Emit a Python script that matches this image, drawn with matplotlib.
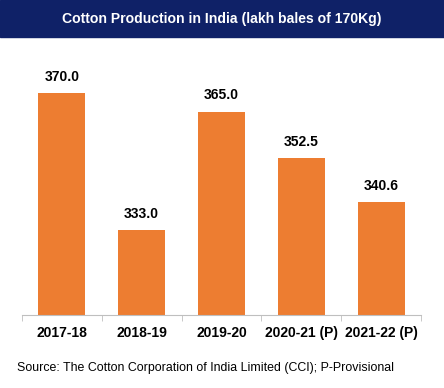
import matplotlib.pyplot as plt
from matplotlib.patches import Rectangle

years = ["2017-18", "2018-19", "2019-20", "2020-21 (P)", "2021-22 (P)"]
production = [370.0, 333.0, 365.0, 352.5, 340.6]

fig = plt.figure(figsize=(4.44, 3.88), dpi=100)
plt.rcParams["font.family"] = ["Liberation Sans", "DejaVu Sans"]

# header band
fig.patches.append(Rectangle((0, 1 - 37 / 388), 1, 37 / 388, transform=fig.transFigure,
                             color="#0F2167", zorder=0))
fig.text(0.5, 1 - 18.5 / 388, "Cotton Production in India (lakh bales of 170Kg)",
         ha="center", va="center", color="white", fontsize=10.1, fontweight="bold")

ax = fig.add_axes([22 / 444, 73 / 388, (421 - 22) / 444, (315 - 45) / 388])
xs = range(len(years))
ax.bar(xs, production, width=0.59, color="#ED7D31")
for x, v in zip(xs, production):
    ax.text(x, v + 2.5, f"{v:.1f}", ha="center", va="bottom", fontsize=10, fontweight="bold")

ax.set_ylim(310, 383)
ax.set_xlim(-0.5, len(years) - 0.5)
ax.set_yticks([])
ax.set_xticks(list(xs))
ax.set_xticklabels(years, fontsize=10, fontweight="bold")
ax.set_xticks([i - 0.5 for i in range(len(years) + 1)], minor=True)
ax.tick_params(axis="x", which="major", length=0, pad=8)
ax.tick_params(axis="x", which="minor", length=4, color="#BFBFBF", direction="out")
for s in ["top", "left", "right"]:
    ax.spines[s].set_visible(False)
ax.spines["bottom"].set_color("#BFBFBF")

fig.text(17 / 444, 1 - 368 / 388, "Source: The Cotton Corporation of India Limited (CCI); P-Provisional",
         ha="left", va="center", fontsize=8.9)

plt.savefig("out.png", dpi=100)
